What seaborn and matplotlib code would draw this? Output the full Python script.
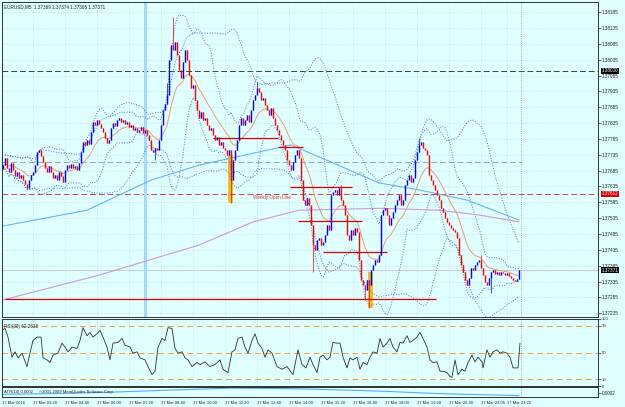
import numpy as np
import pandas as pd
import matplotlib
matplotlib.use('Agg')
import matplotlib.pyplot as plt
import matplotlib.transforms as mtransforms
import seaborn as sns

# EURUSD M5 closes, one per bar (bar 0 = left edge of the chart)
closes = [
    1.37702, 1.37724, 1.37693, 1.37680, 1.37709, 1.37687, 1.37668, 1.37680, 1.37661, 1.37671,
    1.37655, 1.37642, 1.37630, 1.37655, 1.37671, 1.37680, 1.37702, 1.37743, 1.37750, 1.37731,
    1.37712, 1.37693, 1.37680, 1.37699, 1.37680, 1.37661, 1.37671, 1.37655, 1.37680, 1.37668,
    1.37649, 1.37687, 1.37702, 1.37693, 1.37706, 1.37693, 1.37699, 1.37687, 1.37709, 1.37743,
    1.37775, 1.37766, 1.37781, 1.37769, 1.37806, 1.37838, 1.37829, 1.37844, 1.37832, 1.37819,
    1.37806, 1.37788, 1.37772, 1.37781, 1.37819, 1.37835, 1.37825, 1.37844, 1.37851, 1.37838,
    1.37844, 1.37832, 1.37838, 1.37822, 1.37829, 1.37813, 1.37819, 1.37806, 1.37813, 1.37822,
    1.37803, 1.37813, 1.37797, 1.37781, 1.37750, 1.37743, 1.37756, 1.37750, 1.37781, 1.37829,
    1.37876, 1.37895, 1.37923, 1.38034, 1.38081, 1.38065, 1.38090, 1.38049, 1.38002, 1.37977,
    1.38027, 1.38065, 1.38034, 1.37986, 1.37945, 1.37955, 1.37907, 1.37876, 1.37851, 1.37870,
    1.37844, 1.37851, 1.37829, 1.37813, 1.37819, 1.37797, 1.37781, 1.37791, 1.37766, 1.37775,
    1.37756, 1.37750, 1.37734, 1.37750, 1.37655, 1.37718, 1.37750, 1.37781, 1.37829, 1.37851,
    1.37829, 1.37844, 1.37860, 1.37838, 1.37876, 1.37907, 1.37923, 1.37945, 1.37933, 1.37907,
    1.37914, 1.37892, 1.37876, 1.37860, 1.37882, 1.37851, 1.37829, 1.37813, 1.37797, 1.37781,
    1.37766, 1.37750, 1.37718, 1.37702, 1.37687, 1.37712, 1.37734, 1.37750, 1.37724, 1.37655,
    1.37592, 1.37576, 1.37598, 1.37576, 1.37513, 1.37450, 1.37434, 1.37466, 1.37472, 1.37450,
    1.37460, 1.37482, 1.37513, 1.37497, 1.37608, 1.37617, 1.37624, 1.37608, 1.37630, 1.37592,
    1.37576, 1.37545, 1.37482, 1.37466, 1.37497, 1.37482, 1.37504, 1.37491, 1.37403, 1.37340,
    1.37324, 1.37308, 1.37340, 1.37324, 1.37371, 1.37387, 1.37403, 1.37396, 1.37418, 1.37545,
    1.37560, 1.37567, 1.37545, 1.37513, 1.37535, 1.37554, 1.37576, 1.37592, 1.37608, 1.37576,
    1.37592, 1.37639, 1.37655, 1.37671, 1.37649, 1.37661, 1.37718, 1.37743, 1.37766, 1.37775,
    1.37756, 1.37750, 1.37734, 1.37671, 1.37655, 1.37639, 1.37624, 1.37608, 1.37592, 1.37567,
    1.37554, 1.37535, 1.37523, 1.37513, 1.37504, 1.37497, 1.37491, 1.37472, 1.37418, 1.37387,
    1.37365, 1.37340, 1.37324, 1.37346, 1.37377, 1.37371, 1.37387, 1.37396, 1.37403, 1.37377,
    1.37355, 1.37333, 1.37324, 1.37346, 1.37365, 1.37371, 1.37358, 1.37365, 1.37355, 1.37365,
    1.37362, 1.37355, 1.37362, 1.37352, 1.37346, 1.37340, 1.37337, 1.37343, 1.37371,
]
first_open = 1.37690
high_spikes = {85: 1.38169, 82: 1.37960, 127: 1.37964, 208: 1.37788, 169: 1.37640, 239: 1.37420}
low_spikes = {114: 1.37583, 155: 1.37365, 181: 1.37277, 183: 1.37251, 244: 1.37300, 76: 1.37720}

# long moving averages (bar, price)
ma_blue_bar = [0, 42, 74, 98, 144, 164, 188, 208, 232, 258]
ma_blue = [1.37510, 1.37560, 1.37655, 1.37702, 1.37766, 1.37712, 1.37646, 1.37624, 1.37592, 1.37529]
ma_violet_bar = [0, 48, 98, 125, 148, 188, 218, 238, 258]
ma_violet = [1.37277, 1.37355, 1.37450, 1.37523, 1.37560, 1.37566, 1.37560, 1.37545, 1.37523]

rsi_bar = [
    -0.5, 1, 2.5, 4.5, 6, 7.5, 9.5, 12, 13.5, 15, 17, 19, 20, 22, 23.5, 25, 27.5, 29.5, 31, 32.5,
    34.5, 37, 38.5, 40, 42, 43.5, 45, 47, 48.5, 50, 52, 53.5, 55, 57.5, 59.5, 61, 63.5, 65, 67, 68.5,
    71, 72.5, 74.5, 76, 77.5, 79.5, 81, 82.5, 84.5, 86, 87.5, 89.5, 91, 92.5, 94.5, 97, 98.5, 101,
    103.5, 106, 108.5, 110, 112.5, 114.5, 116, 117.5, 119.5, 121, 122.5, 124.5, 126, 127.5, 129.5,
    131, 132.5, 134.5, 137, 139.5, 142, 145, 147.5, 149.5, 151.5,
    153.5, 155, 157, 158.5, 160, 162, 163.5, 165, 167, 168.5, 170, 172, 173.5, 175, 177, 178.5, 180,
    182, 183.5, 185, 187, 188.5, 190, 192, 193.5, 195, 197, 198.5, 200, 202, 203.5, 205, 207, 208.5,
    210, 212, 213.5, 215, 217, 218.5, 220, 222, 223.5, 224.5, 226, 227.5, 229.5, 231, 232.5, 234.5,
    236, 237.5, 239.5, 240, 242, 243.5, 245, 247, 248.5, 250, 252, 253.5, 255, 257.5, 258.5,
]
rsi = [
    83, 86, 73, 43, 51, 42, 49, 29, 49, 68, 73, 73, 42, 39, 35, 46, 49, 64, 58, 51,
    58, 56, 68, 87, 75, 80, 73, 78, 83, 73, 58, 39, 64, 65, 71, 61, 58, 49, 51, 42,
    39, 29, 17, 22, 58, 71, 68, 87, 86, 56, 49, 51, 42, 39, 29, 35, 32, 36,
    29, 32, 39, 25, 20, 51, 54, 71, 73, 58, 49, 68, 78, 64, 56,
    43, 54, 49, 29, 25, 29, 17, 54, 32, 27,
    43, 32, 20, 43, 46, 39, 43, 65, 64, 64, 43, 27, 42, 39, 43, 25, 35,
    32, 43, 51, 49, 71, 58, 64, 71, 58, 51, 65, 64, 75, 65, 68, 73, 80,
    71, 58, 39, 35, 36, 22, 22, 20, 14, 13, 39, 17, 25, 22, 35, 46,
    36, 43, 36, 27, 54, 43, 51, 54, 49, 51, 49, 43, 27, 27, 64,
]

atr_bar = [0, 30, 55, 80, 100, 115, 140, 160, 190, 210, 230, 250, 258]
atr = [0.00012, 0.00016, 0.00022, 0.00030, 0.00036, 0.00040, 0.00038, 0.00034,
       0.00026, 0.00018, 0.00012, 0.00008, 0.00006]

price_ticks = [1.37235, 1.37285, 1.37335, 1.37385, 1.37435, 1.37485, 1.37535, 1.37585,
               1.37635, 1.37685, 1.37735, 1.37785, 1.37835, 1.37885, 1.37935, 1.37985,
               1.38035, 1.38085, 1.38135, 1.38185]
time_bars = [-0.5, 15, 31, 47, 63, 79, 95, 111, 127, 143, 159, 175, 191, 207, 223, 239, 252]
time_labels = ['17 Mar 2016', '17 Mar 03:20', '17 Mar 04:40', '17 Mar 06:00', '17 Mar 07:20',
               '17 Mar 08:40', '17 Mar 10:00', '17 Mar 11:20', '17 Mar 12:40', '17 Mar 14:00',
               '17 Mar 15:20', '17 Mar 16:40', '17 Mar 18:00', '17 Mar 19:20', '17 Mar 20:40',
               '17 Mar 22:05', '17 Mar 23:25']

round_level = 1.38000
weekly_open = 1.37612
bid = 1.37371
blue_level = 1.37712
sr_price = [1.37788, 1.37759, 1.37633, 1.37526, 1.37428, 1.37280]
sr_from = [105, 137.5, 143.5, 147.5, 160, 1]
sr_to = [137.5, 150, 174.5, 179.5, 192, 216.5]
highlight_from = [112.5, 182.5]
highlight_to = [115, 185]
highlight_top = [1.37734, 1.37365]
highlight_bottom = [1.37583, 1.37251]
session_bar = 71
now_bar = 259


def main():
    bg = '#e0ffff'
    sns.set_style('white', rc={'axes.facecolor': bg, 'figure.facecolor': bg})
    plt.rcParams['font.family'] = ['Liberation Sans', 'DejaVu Sans']
    fs = 3.3

    fig = plt.figure(figsize=(6.25, 4.07), dpi=100)
    ax = fig.add_axes([2 / 625, 1 - 317 / 407, 596 / 625, 315 / 407])
    ax_rsi = fig.add_axes([2 / 625, 1 - 386 / 407, 596 / 625, 67 / 407])
    ax_atr = fig.add_axes([2 / 625, 1 - 397 / 407, 596 / 625, 10 / 407])

    c = pd.Series(closes)
    n = len(c)
    bars = np.arange(n)
    o = pd.Series(np.r_[first_open, c.values[:-1]])
    hi = np.maximum(o, c).values.copy()
    lo = np.minimum(o, c).values.copy()
    for k, v in high_spikes.items():
        hi[k] = v
    for k, v in low_spikes.items():
        lo[k] = v

    # background levels
    ax.axhline(round_level, color='#404040', lw=0.7, ls=(0, (6, 3)))
    ax.axhline(weekly_open, color='#d04040', lw=0.7, ls=(0, (6, 3)))
    ax.hlines(blue_level, -0.5, now_bar, color='#90a8c8', lw=0.7, ls=(0, (6, 3)))
    ax.axhline(bid, color='#c8d0d0', lw=0.8)
    ax.axvline(session_bar, color='#a8d8f4', lw=2.2)
    for f, t, top, bot in zip(highlight_from, highlight_to, highlight_top, highlight_bottom):
        ax.fill_between([f, t], bot, top, color='#f0c020', lw=0)

    # indicators
    ema = c.ewm(span=14, adjust=False).mean()
    sns.lineplot(x=bars, y=ema.values, ax=ax, color='#e8a070', lw=0.7)
    for period in (14, 34):
        mid = c.rolling(period, min_periods=2).mean()
        sd = c.rolling(period, min_periods=2).std(ddof=0)
        for band in (mid + 2 * sd, mid - 2 * sd):
            sns.lineplot(x=bars, y=band.values, ax=ax, color='#5070c8', lw=0.7, ls=':')
    sns.lineplot(x=ma_blue_bar, y=ma_blue, ax=ax, color='#6ab4f0', lw=0.8)
    sns.lineplot(x=ma_violet_bar, y=ma_violet, ax=ax, color='#d494e0', lw=0.8)

    # support / resistance segments
    ax.hlines(sr_price, sr_from, sr_to, color='#e00000', lw=0.9)

    # candles
    colors = np.where(c.values >= o.values, '#0000ff', '#ff0000')
    ax.vlines(bars, lo, hi, colors=colors, lw=0.5)
    ax.vlines(bars, np.minimum(o, c), np.maximum(o, c) + 0.000012, colors=colors, lw=1.0)

    ax.axvline(now_bar, color='#909090', lw=0.6, ls=':')
    ax.text(125, weekly_open - 0.00011, 'Weekly Open Line', color='#e03030', fontsize=fs,
            ha='left', va='center')

    ax.set_xlim(-0.5, 297.5)
    ax.set_ylim(1.37223, 1.38217)
    ax.yaxis.tick_right()
    ax.set_yticks(price_ticks)
    ax.set_yticklabels([f'{p:.5f}' for p in price_ticks])
    ax.set_xticks(time_bars)
    ax.tick_params(axis='x', labelbottom=False, length=0)
    ax.tick_params(axis='y', labelsize=fs, length=2, pad=1, width=0.5, colors='#202020')
    ax.grid(True, color='#b4cccc', ls=':', lw=0.4)

    trans = mtransforms.blended_transform_factory(ax.transAxes, ax.transData)
    for val, col in ((round_level, 'black'), (weekly_open, '#e00000'), (bid, 'black')):
        ax.text(1.006, val, f'{val:.5f}', transform=trans, fontsize=fs, color='white',
                va='center', ha='left',
                bbox=dict(facecolor=col, edgecolor='none', pad=0.4))

    # RSI
    ax_rsi.axhline(90, color='#f0a030', lw=0.7, ls=(0, (6, 4)))
    ax_rsi.axhline(50, color='#f0a030', lw=0.7, ls=(0, (6, 4)))
    ax_rsi.axhline(10, color='#f0a030', lw=0.7, ls=(0, (6, 4)))
    sns.lineplot(x=rsi_bar, y=rsi, ax=ax_rsi, color='#303030', lw=0.6)
    ax_rsi.axvline(now_bar, color='#909090', lw=0.6, ls=':')
    ax_rsi.set_xlim(-0.5, 297.5)
    ax_rsi.set_ylim(0, 100)
    ax_rsi.yaxis.tick_right()
    ax_rsi.set_yticks([0, 10, 50, 90, 100])
    ax_rsi.set_yticklabels(['0', '10', '50', '90', '100'])
    ax_rsi.set_xticks(time_bars)
    ax_rsi.tick_params(axis='x', labelbottom=False, length=0)
    ax_rsi.tick_params(axis='y', labelsize=3.0, length=2, pad=1, width=0.5)
    ax_rsi.grid(True, axis='x', color='#b4cccc', ls=':', lw=0.4)
    ax_rsi.text(0.003, 0.93, 'RSI(30) 62.2618', transform=ax_rsi.transAxes, fontsize=fs,
                va='top', ha='left', color='#202020')

    # ATR
    sns.lineplot(x=atr_bar, y=atr, ax=ax_atr, color='#5aaaf0', lw=0.8)
    ax_atr.axvline(now_bar, color='#909090', lw=0.6, ls=':')
    ax_atr.set_xlim(-0.5, 297.5)
    ax_atr.set_ylim(0, 0.00045)
    ax_atr.yaxis.tick_right()
    ax_atr.set_yticks([0.0002])
    ax_atr.set_yticklabels(['0.0002'])
    ax_atr.tick_params(axis='y', labelsize=fs, length=2, pad=1, width=0.5)
    ax_atr.set_xticks(time_bars)
    ax_atr.set_xticklabels(time_labels, ha='left')
    ax_atr.tick_params(axis='x', labelsize=3.0, length=2, pad=1, width=0.5)
    ax_atr.text(0.003, 0.5, 'ATR(14) 0.0002', transform=ax_atr.transAxes, fontsize=3.0,
                va='center', ha='left', color='#202020')
    ax_atr.text(0.062, 0.5, '\u00a92001-2009 MetaQuotes Software Corp.', transform=ax_atr.transAxes,
                fontsize=3.0, va='center', ha='left', color='#202020')

    for a in (ax, ax_rsi, ax_atr):
        for s in a.spines.values():
            s.set_color('#303030')
            s.set_linewidth(0.7)
            s.set_visible(True)
        a.set_xlabel('')
        a.set_ylabel('')

    fig.text(4 / 625, 1 - 7 / 407, 'EURUSD,M5  1.37369 1.37374 1.37365 1.37371', fontsize=fs,
             va='center', ha='left', color='#202020')

    fig.savefig('out.png', dpi=100, facecolor=bg)


if __name__ == '__main__':
    main()
